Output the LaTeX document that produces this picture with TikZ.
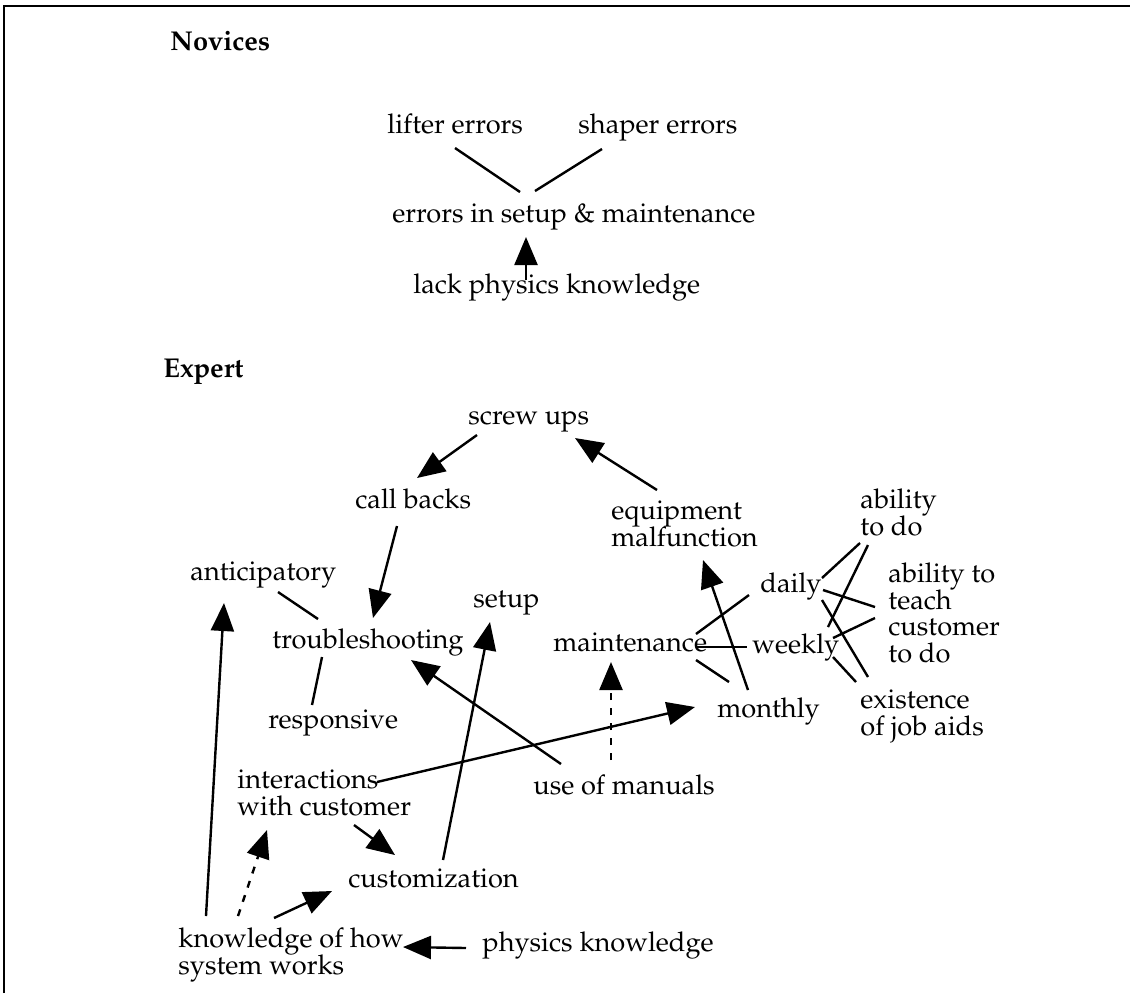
\documentclass[tikz,border=0pt]{standalone}
\usepackage[T1]{fontenc}
\usepackage{mathpazo}
\usetikzlibrary{arrows.meta,calc}
\newcommand{\mlines}[1]{\begin{tabular}[t]{@{}l@{}}#1\end{tabular}}
\tikzset{
  lbl/.style={anchor=base west, inner sep=0pt, font=\fontsize{13.6}{13}\selectfont},
  ttl/.style={lbl, font=\fontsize{13.6}{13}\selectfont\bfseries},
  conn/.style={line width=1.2pt},
  arr/.style={conn, -{Triangle[length=14pt,width=11.5pt]}},
  dsh/.style={arr, dash pattern=on 3.5pt off 4pt},
}
\begin{document}
\begin{tikzpicture}[x=0.5pt,y=-0.5pt]
\useasboundingbox (0,0) rectangle (1130,993);
\draw[line width=1.1pt] (4,993) -- (4,6) -- (1130,6);

% Novices
\node[ttl] (nov) at (170,50) {Novices};
\node[lbl] (lift) at (387,133) {lifter errors};
\node[lbl] (shap) at (578,133) {shaper errors};
\node[lbl] (err) at (392,222) {errors in setup \& maintenance};
\node[lbl] (lack) at (413,293) {lack physics knowledge};

\draw[conn] ($(lift.base west)+(68,15)$) -- ($(err.base west)+(128,-30)$);
\draw[conn] ($(shap.base west)+(24,16)$) -- ($(err.base west)+(143,-31)$);
\draw[arr] ($(lack.base west)+(113,-13)$) -- ($(err.base west)+(134,15)$);

% Expert
\node[ttl] (exp) at (163,377) {Expert};
\node[lbl] (scr) at (468,424) {screw ups};
\node[lbl] (call) at (355,508) {call backs};
\node[lbl] (equip) at (611,519) {\mlines{equipment\\malfunction}};
\node[lbl] (abil) at (860,508) {\mlines{ability\\to do}};
\node[lbl] (anti) at (190,580) {anticipatory};
\node[lbl] (teach) at (888,582) {\mlines{ability to\\teach\\customer\\to do}};
\node[lbl] (daily) at (760,592) {daily};
\node[lbl] (setup) at (473,607) {setup};
\node[lbl] (trb) at (272,648) {troubleshooting};
\node[lbl] (maint) at (553,651) {maintenance};
\node[lbl] (weekly) at (752,653) {weekly};
\node[lbl] (exist) at (860,708) {\mlines{existence\\of job aids}};
\node[lbl] (monthly) at (717,717) {monthly};
\node[lbl] (resp) at (268,728) {responsive};
\node[lbl] (inter) at (237,788) {\mlines{interactions\\with customer}};
\node[lbl] (manuals) at (533,794) {use of manuals};
\node[lbl] (custom) at (348,887) {customization};
\node[lbl] (know) at (178,947) {\mlines{knowledge of how\\system works}};
\node[lbl] (phys) at (482,951) {physics knowledge};

\draw[arr] ($(scr.base west)+(9,11)$) -- ($(call.base west)+(62,-30)$);
\draw[arr] ($(equip.base west)+(46,-29)$) -- ($(scr.base west)+(107,14)$);
\draw[arr] ($(call.base west)+(42,18)$) -- ($(trb.base west)+(101,-30)$);
\draw[conn] ($(anti.base west)+(88,12)$) -- ($(trb.base west)+(46,-29)$);
\draw[conn] ($(resp.base west)+(44,-23)$) -- ($(trb.base west)+(50,9)$);
\draw[arr] ($(know.base west)+(28,-31)$) -- ($(anti.base west)+(34,23)$);
\draw[arr] ($(custom.base west)+(95,-27)$) -- ($(setup.base west)+(17,15)$);
\draw[arr] ($(manuals.base west)+(28,-30)$) -- ($(trb.base west)+(139,12)$);
\draw[arr] ($(inter.base west)+(140,-6)$) -- ($(monthly.base west)+(-22,-10)$);
\draw[dsh] ($(manuals.base west)+(78,-34)$) -- ($(maint.base west)+(58,11)$);
\draw[arr] ($(monthly.base west)+(31,-27)$) -- ($(equip.base west)+(92,41)$);
\draw[conn] ($(maint.base west)+(143,-17)$) -- ($(daily.base west)+(-11,3)$);
\draw[conn] ($(maint.base west)+(144,-4)$) -- ($(weekly.base west)+(-5,-6)$);
\draw[conn] ($(maint.base west)+(143,9)$) -- ($(monthly.base west)+(12,-35)$);
\draw[conn] ($(daily.base west)+(62,-14)$) -- ($(abil.base west)+(0,35)$);
\draw[conn] ($(abil.base west)+(8,37)$) -- ($(weekly.base west)+(76,-26)$);
\draw[conn] ($(daily.base west)+(63,-2)$) -- ($(teach.base west)+(-13,25)$);
\draw[conn] ($(daily.base west)+(62,8)$) -- ($(exist.base west)+(8,-31)$);
\draw[conn] ($(weekly.base west)+(81,-15)$) -- ($(teach.base west)+(-13,36)$);
\draw[conn] ($(weekly.base west)+(81,4)$) -- ($(exist.base west)+(-4,-26)$);
\draw[arr] ($(inter.base west)+(117,37)$) -- ($(custom.base west)+(47,-32)$);
\draw[dsh] ($(know.base west)+(60,-31)$) -- ($(inter.base west)+(30,42)$);
\draw[arr] ($(know.base west)+(96,-29)$) -- ($(custom.base west)+(-16,4)$);
\draw[arr] ($(phys.base west)+(-16,-3)$) -- ($(know.base west)+(225,0)$);
\end{tikzpicture}
\end{document}
